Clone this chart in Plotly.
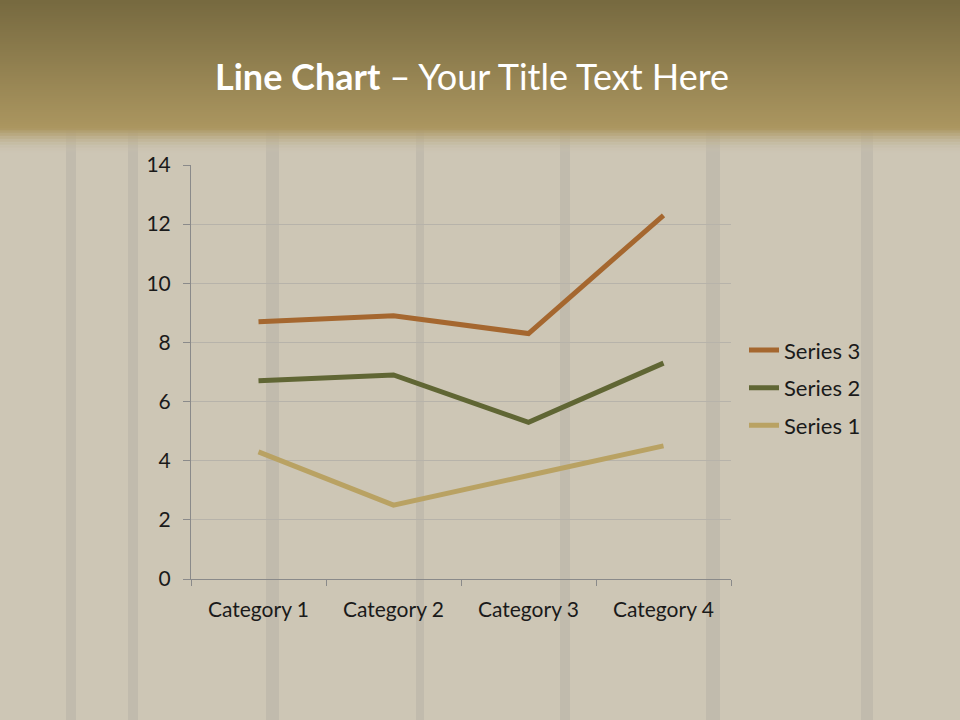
import plotly.graph_objects as go

categories = ["Category 1", "Category 2", "Category 3", "Category 4"]
series1 = [4.3, 2.5, 3.5, 4.5]
series2 = [2.4, 4.4, 1.8, 2.8]
series3 = [2.0, 2.0, 3.0, 5.0]
y_ticks = [0, 2, 4, 6, 8, 10, 12, 14]

colors = {"Series 1": "#b9a263", "Series 2": "#606634", "Series 3": "#a5672f"}
ranks = {"Series 1": 3, "Series 2": 2, "Series 3": 1}

W, H = 960, 720
fig = go.Figure()
for name, vals in [("Series 1", series1), ("Series 2", series2), ("Series 3", series3)]:
    fig.add_trace(go.Scatter(
        x=categories, y=vals, name=name, mode="lines",
        stackgroup="one", fill="none", legendgroup=name, legendrank=ranks[name],
        line=dict(color=colors[name], width=5),
        hoverinfo="skip",
    ))


def py(px):
    return (579 - px) / 414


shapes = []
top = (0x77, 0x6a, 0x40)
bot = (0xab, 0x96, 0x60)
wood = (0xcd, 0xc6, 0xb5)
hdr_h = 128
n = 64
for i in range(n):
    t = i / (n - 1)
    c = tuple(int(top[k] + (bot[k] - top[k]) * t) for k in range(3))
    y0 = hdr_h * i / n
    y1 = hdr_h * (i + 1) / n + 0.6
    shapes.append(dict(type="rect", xref="paper", yref="paper", layer="below",
                       x0=-1, x1=2, y0=py(y1), y1=py(y0),
                       fillcolor="rgb(%d,%d,%d)" % c, line=dict(width=0)))

# wood plank gaps (decorative)
stripes = [(66, 76), (128, 138), (266, 279), (416, 424), (560, 570), (706, 720), (861, 873)]
for a, b in stripes:
    shapes.append(dict(type="rect", xref="paper", yref="paper", layer="below",
                       x0=(a - 191) / 540, x1=(b - 191) / 540,
                       y0=py(730), y1=py(hdr_h),
                       fillcolor="rgba(150,148,145,0.22)", line=dict(width=0)))

m = 16
for i in range(m):
    t = (i + 0.5) / m
    c = tuple(int(bot[k] + (wood[k] - bot[k]) * t) for k in range(3))
    a = 1.0 - t * 0.9
    y0 = hdr_h + 24 * i / m
    y1 = hdr_h + 24 * (i + 1) / m + 0.6
    shapes.append(dict(type="rect", xref="paper", yref="paper", layer="below",
                       x0=-1, x1=2, y0=py(y1), y1=py(y0),
                       fillcolor="rgba(%d,%d,%d,%.2f)" % (c + (a,)), line=dict(width=0)))

fig.update_layout(
    width=W, height=H,
    margin=dict(l=191, r=229, t=165, b=141, pad=0),
    paper_bgcolor="rgb(%d,%d,%d)" % wood,
    plot_bgcolor="rgba(0,0,0,0)",
    font=dict(family="Lato, Open Sans, sans-serif", size=21, color="#1a1a1a"),
    showlegend=True,
    legend=dict(x=(744 - 191) / 540, xanchor="left", y=0.462, yanchor="middle",
                traceorder="grouped", bgcolor="rgba(0,0,0,0)",
                font=dict(size=22), itemwidth=30, tracegroupgap=6),
    shapes=shapes,
    xaxis=dict(type="category", range=[-0.5, 3.5], showgrid=False,
               showline=True, linecolor="#8a8a8a", linewidth=1,
               ticks="outside", tickson="boundaries", ticklen=6, tickcolor="#8a8a8a",
               tickfont=dict(size=21), ticklabelstandoff=12, fixedrange=True),
    yaxis=dict(range=[0, 14], tickvals=y_ticks, showgrid=True, gridcolor="#b7b3aa",
               gridwidth=1, zeroline=False, showline=True, linecolor="#8a8a8a",
               ticks="outside", ticklen=7, tickcolor="#8a8a8a",
               tickfont=dict(size=21), ticklabelstandoff=8, fixedrange=True),
    annotations=[dict(
        text="<b>Line Chart</b> – Your Title Text Here",
        xref="paper", yref="paper", x=(472 - 191) / 540, y=py(76),
        xanchor="center", yanchor="middle", showarrow=False,
        font=dict(size=36, color="white", family="Lato, Open Sans, sans-serif"),
    )],
)

fig.write_html("out.html", config={"displayModeBar": False},
               post_script="document.body.style.margin='0';")
